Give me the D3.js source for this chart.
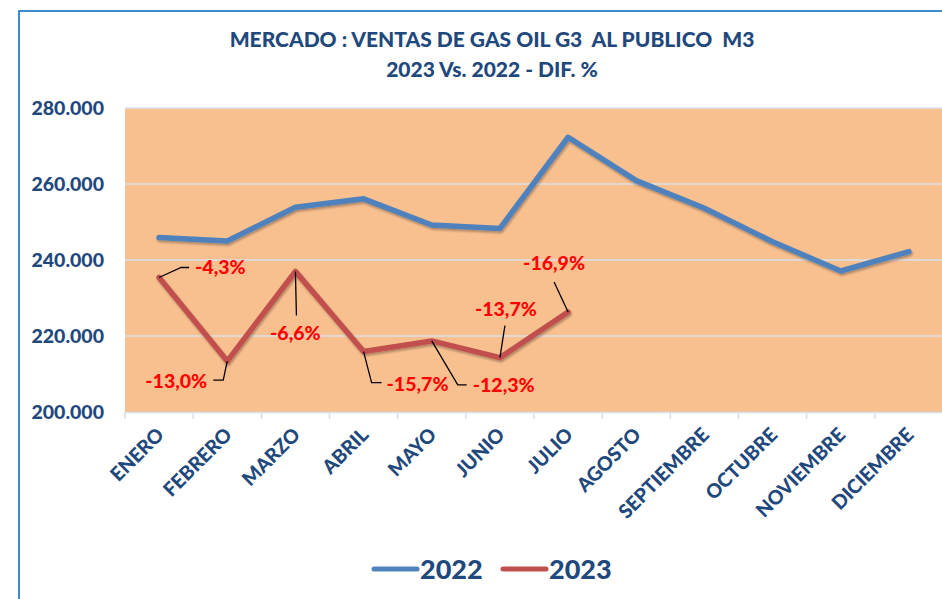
<!DOCTYPE html>
<html><head><meta charset="utf-8">
<script src="https://cdn.jsdelivr.net/npm/d3@7"></script>
<style>
html,body{margin:0;padding:0;background:#fff;}
svg{display:block;}
text{font-family:Lato,"Open Sans",sans-serif;font-weight:900;white-space:pre;}
</style></head><body>
<svg id="chart" width="942" height="599"></svg>
<script>
const months = ["ENERO","FEBRERO","MARZO","ABRIL","MAYO","JUNIO","JULIO","AGOSTO","SEPTIEMBRE","OCTUBRE","NOVIEMBRE","DICIEMBRE"];
const ventas2022 = [245900, 245000, 253900, 256100, 249200, 248300, 272300, 260900, 253600, 244800, 237100, 242200];
const ventas2023 = [235400, 213400, 237000, 215900, 218700, 214300, 226300];
const difLabels = ["-4,3%","-13,0%","-6,6%","-15,7%","-12,3%","-13,7%","-16,9%"];
const yTicks = [200000, 220000, 240000, 260000, 280000];
const seriesNames = ["2022","2023"];
const titleLines = ["MERCADO : VENTAS DE GAS OIL G3  AL PUBLICO  M3","2023 Vs. 2022 - DIF. %"];

// layout/styling (not data)
const labelLayout = [
  {leader:[[0,0],[22,-10],[30,-10]], tx:36, ty:-10, anchor:"start"},
  {leader:[[0,0],[-4,19],[-14,19]], tx:-20, ty:20, anchor:"end"},
  {leader:[[0,0],[1,44]], tx:0, ty:62, anchor:"middle"},
  {leader:[[0,0],[8,31],[18,31]], tx:23, ty:33, anchor:"start"},
  {leader:[[0,0],[26,44],[35,44]], tx:41, ty:44, anchor:"start"},
  {leader:[[0,0],[5,-32]], tx:6, ty:-48, anchor:"middle"},
  {leader:[[0,0],[-14,-30]], tx:-14, ty:-49, anchor:"middle"}
];
const C = {blue:"#4F81BD", red:"#C0504D", navy:"#1F497D", plot:"#F9C08F", grid:"#D8DFEA", frame:"#3A8BD0"};

const svg = d3.select("#chart");
const defs = svg.append("defs");
const f = defs.append("filter").attr("id","sh").attr("x","-10%").attr("y","-10%").attr("width","120%").attr("height","130%");
f.append("feDropShadow").attr("dx",1).attr("dy",2).attr("stdDeviation",1.2).attr("flood-color","#000").attr("flood-opacity",0.3);

// frame
svg.append("path").attr("d","M19,600 L19,11 L943,11").attr("fill","none").attr("stroke",C.frame).attr("stroke-width",2);

const x = d3.scaleBand().domain(months).range([125,943]);
const y = d3.scaleLinear().domain([200000,280000]).range([412,108]);

// title
svg.append("g").selectAll("text").data(titleLines).join("text")
  .attr("x",492).attr("y",(d,i)=>47+i*30).attr("text-anchor","middle")
  .attr("font-size",21).attr("fill",C.navy).text(d=>d);

// plot background
svg.append("rect").attr("x",x.range()[0]).attr("y",y(280000)).attr("width",x.range()[1]-x.range()[0]).attr("height",y(200000)-y(280000)).attr("fill",C.plot);

// gridlines
svg.append("g").selectAll("line").data(yTicks.slice(1)).join("line")
  .attr("x1",x.range()[0]).attr("x2",x.range()[1]).attr("y1",d=>y(d)).attr("y2",d=>y(d))
  .attr("stroke",C.grid).attr("stroke-width",1.5);

// y axis
const loc = d3.formatLocale({decimal:",",thousands:".",grouping:[3],currency:["",""]});
const yAxis = svg.append("g").attr("transform","translate(125,0)")
  .call(d3.axisLeft(y).tickValues(yTicks).tickFormat(loc.format(",")).tickSize(0).tickPadding(21));
yAxis.select(".domain").remove();
yAxis.selectAll("text").attr("font-size",19.5).attr("fill",C.navy).attr("font-family","Lato,sans-serif");

// x axis
const xAxis = svg.append("g").attr("transform","translate(0,412)")
  .call(d3.axisBottom(x).tickSize(0).tickFormat(""));
xAxis.select(".domain").attr("stroke",C.grid).attr("stroke-width",1.5);
const tickPos = months.map(m=>x(m)).concat([x.range()[1]]);
svg.append("g").selectAll("line").data(tickPos).join("line")
  .attr("x1",d=>d).attr("x2",d=>d).attr("y1",412).attr("y2",419).attr("stroke",C.grid).attr("stroke-width",1.5);
svg.append("g").selectAll("text").data(months).join("text")
  .attr("transform",d=>`translate(${x(d)+x.bandwidth()/2+6},${436}) rotate(-45)`)
  .attr("text-anchor","end").attr("font-size",19.5).attr("fill",C.navy).text(d=>d);

// lines
const line = d3.line().x((d,i)=>x(months[i])+x.bandwidth()/2).y(d=>y(d));
svg.append("path").datum(ventas2022).attr("d",line).attr("fill","none").attr("stroke",C.blue)
  .attr("stroke-width",5.5).attr("stroke-linejoin","round").attr("stroke-linecap","round").attr("filter","url(#sh)");
svg.append("path").datum(ventas2023).attr("d",line).attr("fill","none").attr("stroke",C.red)
  .attr("stroke-width",5.5).attr("stroke-linejoin","round").attr("stroke-linecap","round").attr("filter","url(#sh)");

// data labels
const lg = svg.append("g");
difLabels.forEach((lab,i)=>{
  const px = x(months[i])+x.bandwidth()/2, py = y(ventas2023[i]);
  const L = labelLayout[i];
  lg.append("path").attr("d", d3.line()(L.leader.map(p=>[px+p[0],py+p[1]])))
    .attr("fill","none").attr("stroke","#000").attr("stroke-width",1.3);
  lg.append("text").attr("x",px+L.tx).attr("y",py+L.ty).attr("dy","0.35em")
    .attr("text-anchor",L.anchor).attr("font-size",19.5).attr("fill","#FF0000").text(lab);
});

// legend
const legX = [374, 503];
const lgd = svg.append("g");
seriesNames.forEach((s,i)=>{
  lgd.append("line").attr("x1",legX[i]).attr("x2",legX[i]+43).attr("y1",569).attr("y2",569)
    .attr("stroke",i===0?C.blue:C.red).attr("stroke-width",5).attr("stroke-linecap","round");
  lgd.append("text").attr("x",legX[i]+46).attr("y",569).attr("dy","0.36em").attr("font-size",27)
    .attr("fill",C.navy).text(s);
});
</script>
</body></html>
